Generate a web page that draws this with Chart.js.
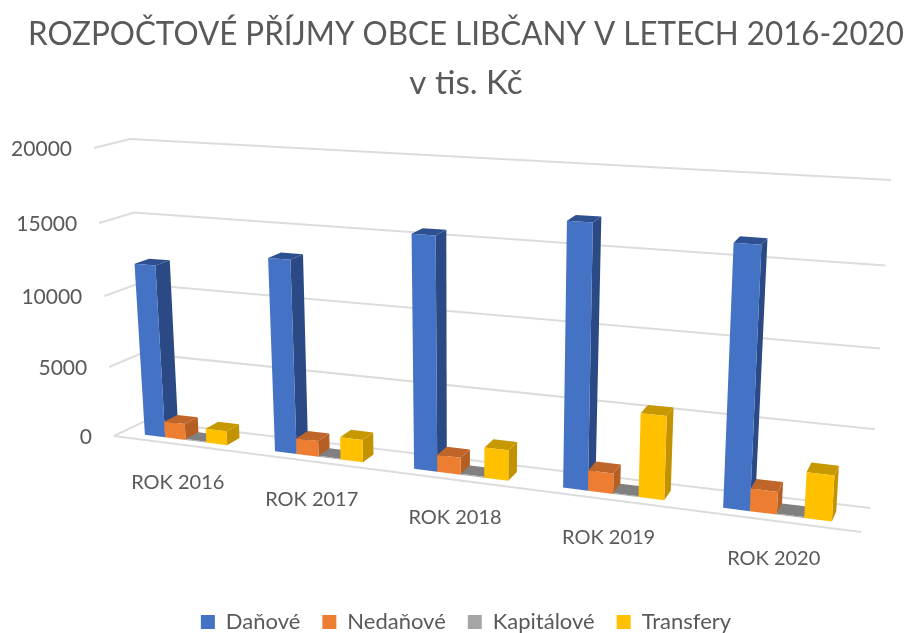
<!DOCTYPE html>
<html>
<head>
<meta charset="utf-8">
<title>Rozpočtové příjmy</title>
<script src="https://cdn.jsdelivr.net/npm/chart.js@4"></script>
<style>
    body { margin: 0; background: #fff; }
    canvas { display: block; }
</style>
</head>
<body>
<canvas id="chart" width="904" height="633"></canvas>
<script>
const years = ["ROK 2016", "ROK 2017", "ROK 2018", "ROK 2019", "ROK 2020"];
const danove = [12150, 13290, 15575, 17060, 16420];
const nedanove = [1150, 1100, 1150, 1350, 1450];
const kapitalove = [60, 60, 60, 60, 60];
const transfery = [1000, 1550, 2050, 5450, 2900];

const textColor = "#595959";
const gridColor = "#dcdcdc";

// 3D box of the plot: [x, y] of the corners
const floorBackLeft = [145, 421], floorBackRight = [870, 508];
const floorFrontLeft = [114, 436], floorFrontRight = [861, 532];
const topBackLeft = [130, 139], topBackRight = [891, 180];
const topFrontLeft = [94, 148], topFrontRight = [881, 194];

const barFront = 0.27;
const barBack = 0.71;

function lerp(a, b, t) {
    return [a[0] + (b[0] - a[0]) * t, a[1] + (b[1] - a[1]) * t];
}

// u: along the years 0-1, d: 0 front of floor, 1 back wall, h: 0-1 up the value axis
function project(u, d, h) {
    const q = -0.16;
    const uu = (1 + q) * u / (1 + q * u);
    const c = -0.0135;
    const n = h * 4;
    const hh = n * (1 + 4 * c) / (4 * (1 + c * n));
    const bottom = lerp(lerp(floorFrontLeft, floorFrontRight, uu), lerp(floorBackLeft, floorBackRight, uu), d);
    const top = lerp(lerp(topFrontLeft, topFrontRight, uu), lerp(topBackLeft, topBackRight, uu), d);
    return lerp(bottom, top, hh);
}

function poly(ctx, points, color) {
    ctx.fillStyle = color;
    ctx.beginPath();
    points.forEach((p, i) => i ? ctx.lineTo(p[0], p[1]) : ctx.moveTo(p[0], p[1]));
    ctx.closePath();
    ctx.fill();
}

function line(ctx, points) {
    ctx.beginPath();
    points.forEach((p, i) => i ? ctx.lineTo(p[0], p[1]) : ctx.moveTo(p[0], p[1]));
    ctx.stroke();
}

const perspectivePlugin = {
    id: "perspective",
    beforeDatasetsDraw(chart) {
        const ctx = chart.ctx;
        const xScale = chart.scales.x;
        const yScale = chart.scales.y;
        const toH = py => (yScale.bottom - py) / (yScale.bottom - yScale.top);

        ctx.save();
        ctx.lineWidth = 2;
        ctx.strokeStyle = gridColor;

        // gridlines and value labels
        ctx.font = "21px Lato";
        ctx.fillStyle = textColor;
        ctx.textAlign = "right";
        ctx.textBaseline = "middle";
        yScale.ticks.forEach(tick => {
            const h = toH(yScale.getPixelForValue(tick.value));
            const start = project(0, 0, h);
            line(ctx, [start, project(0, 1, h), project(1, 1, h)]);
            ctx.fillText(String(tick.value), start[0] - 22, start[1] + 1);
        });
        line(ctx, [project(0, 0, 0), project(1, 0, 0)]);

        // year labels
        ctx.font = "20px Lato";
        ctx.textAlign = "center";
        years.forEach((label, i) => {
            const u = (xScale.getPixelForTick(i) - xScale.left) / xScale.width;
            const p = project(u, 0, 0);
            ctx.fillText(xScale.getLabelForValue(i), p[0], p[1] + 38);
        });

        // bars
        chart.data.datasets.forEach((dataset, di) => {
            chart.getDatasetMeta(di).data.forEach(bar => {
                const u0 = (bar.x - bar.width / 2 - xScale.left) / xScale.width;
                const u1 = (bar.x + bar.width / 2 - xScale.left) / xScale.width;
                const h = toH(bar.y);
                poly(ctx, [project(u1, barFront, 0), project(u1, barBack, 0), project(u1, barBack, h), project(u1, barFront, h)], dataset.sideColor);
                poly(ctx, [project(u0, barFront, h), project(u1, barFront, h), project(u1, barBack, h), project(u0, barBack, h)], dataset.topColor);
                poly(ctx, [project(u0, barFront, 0), project(u1, barFront, 0), project(u1, barFront, h), project(u0, barFront, h)], dataset.backgroundColor);
            });
        });
        ctx.restore();
        return false;
    }
};

new Chart(document.getElementById("chart"), {
    type: "bar",
    data: {
        labels: years,
        datasets: [
            { label: "Daňové", data: danove, backgroundColor: "#4472c4", sideColor: "#2b4a85", topColor: "#2f5090" },
            { label: "Nedaňové", data: nedanove, backgroundColor: "#ed7d31", sideColor: "#b55f25", topColor: "#c0652a" },
            { label: "Kapitálové", data: kapitalove, backgroundColor: "#a5a5a5", sideColor: "#7c7c7c", topColor: "#808080" },
            { label: "Transfery", data: transfery, backgroundColor: "#ffc000", sideColor: "#c29200", topColor: "#c79800" }
        ]
    },
    options: {
        responsive: false,
        animation: false,
        layout: { padding: { left: 28, bottom: -10 } },
        datasets: { bar: { categoryPercentage: 0.64, barPercentage: 1 } },
        scales: {
            x: { display: true, grid: { display: false }, border: { display: false }, ticks: { display: false } },
            y: {
                min: 0,
                max: 20000,
                grid: { display: false },
                border: { display: false },
                ticks: { display: false, stepSize: 5000 }
            }
        },
        plugins: {
            title: {
                display: true,
                text: ["ROZPOČTOVÉ PŘÍJMY OBCE LIBČANY V LETECH 2016-2020", "v tis. Kč"],
                color: textColor,
                font: { family: "Lato", size: 33.2, weight: "normal", lineHeight: 1.5 },
                padding: { top: 9, bottom: 10 }
            },
            legend: {
                position: "bottom",
                labels: {
                    color: textColor,
                    font: { family: "Lato", size: 22 },
                    boxWidth: 14,
                    boxHeight: 14,
                    padding: 22
                }
            },
            tooltip: { enabled: false }
        }
    },
    plugins: [perspectivePlugin]
});
</script>
</body>
</html>
